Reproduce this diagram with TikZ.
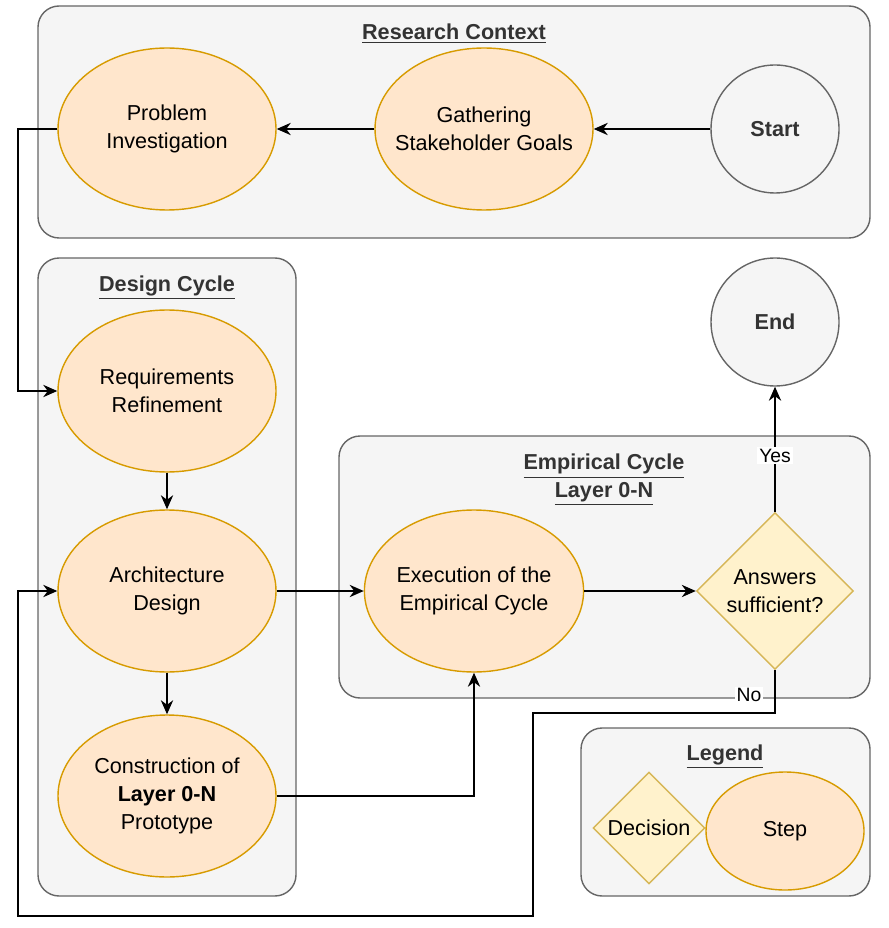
\documentclass[tikz,border=0pt]{standalone}
\usepackage{fontspec}
\setmainfont{Liberation Sans}
\usetikzlibrary{shapes.geometric}
\usetikzlibrary{arrows.meta}
\definecolor{boxfill}{HTML}{F5F5F5}
\definecolor{boxline}{HTML}{666666}
\definecolor{titletext}{HTML}{333333}
\definecolor{stepfill}{HTML}{FFE6CC}
\definecolor{stepline}{HTML}{D79B00}
\definecolor{decfill}{HTML}{FFF2CC}
\definecolor{decline}{HTML}{D6B656}

\begin{document}
\begin{tikzpicture}[x=0.02cm,y=-0.02cm,
    font=\fontsize{12.3}{15.8}\selectfont,
    group/.style={draw=boxline,fill=boxfill,rounded corners=12pt,line width=0.8pt},
    title/.style={font=\fontsize{12.3}{15.8}\selectfont\bfseries,text=titletext,align=center},
    activity/.style={ellipse,draw=stepline,fill=stepfill,line width=0.8pt,
        minimum width=218*0.02cm,minimum height=162*0.02cm,align=center,inner sep=0pt},
    term/.style={circle,draw=boxline,fill=boxfill,line width=0.8pt,
        minimum size=128*0.02cm,font=\fontsize{12.3}{15.8}\selectfont\bfseries,text=titletext},
    decision/.style={diamond,draw=decline,fill=decfill,line width=0.8pt,aspect=1,
        minimum width=157*0.02cm,minimum height=157*0.02cm,align=center,inner sep=0pt},
    flow/.style={-{Stealth[length=8pt,width=7pt]},line width=0.9pt},
    lbl/.style={fill=white,inner sep=1pt,font=\fontsize{11}{13}\selectfont}]
    \useasboundingbox (0,0) rectangle (888,928);
    % groups
    \draw[group] (38,6) rectangle (870,238);
    \node[title] at (454,34) {\underline{Research Context}};
    \draw[group] (38,258) rectangle (296,896);
    \node[title] at (167,288) {\underline{Design Cycle}};
    \draw[group] (339,436) rectangle (870,698);
    \node[title] at (604,480) {\underline{Empirical Cycle}\\\underline{Layer 0-N}};
    \draw[group] (581,728) rectangle (870,896);
    \node[title] at (725,757) {\underline{Legend}};
    % steps
    \node[term] (start) at (775,129) {Start};
    \node[term] (end) at (775,322) {End};
    \node[activity,inner xsep=-22pt] (goals) at (484,129) {Gathering\\Stakeholder Goals};
    \node[activity] (problem) at (167,129) {Problem\\Investigation};
    \node[activity] (req) at (167,391) {Requirements\\Refinement};
    \node[activity] (arch) at (167,591) {Architecture\\Design};
    \node[activity] (proto) at (167,796) {Construction of\\\textbf{Layer 0-N}\\Prototype};
    \node[activity] (exec) at (474,591) {Execution of the\\Empirical Cycle};
    \node[decision] (answers) at (775,591) {Answers\\sufficient?};
    \node[decision,minimum width=112*0.02cm,minimum height=112*0.02cm] (legdec) at (649,828) {Decision};
    \node[activity,minimum width=158*0.02cm,minimum height=118*0.02cm] (legstep) at (785,831) {Step};
    % connectors
    \draw[flow] (start) -- (goals);
    \draw[flow] (goals) -- (problem);
    \draw[flow] (problem.west) -- (18,129) -- (18,391) -- (req.west);
    \draw[flow] (req) -- (arch);
    \draw[flow] (arch) -- (proto);
    \draw[flow] (arch.east) -- (exec.west);
    \draw[flow] (proto.east) -- (474,796) -- (exec.south);
    \draw[flow] (exec) -- (answers);
    \draw[flow] (answers.north) -- node[lbl,pos=0.45] {Yes} (end.south);
    \draw[flow] (answers.south) -- (775,713) -- (533,713) -- (533,916)
        -- (18,916) -- (18,591) -- (arch.west);
    \node[lbl] at (749,695) {No};
\end{tikzpicture}
\end{document}
